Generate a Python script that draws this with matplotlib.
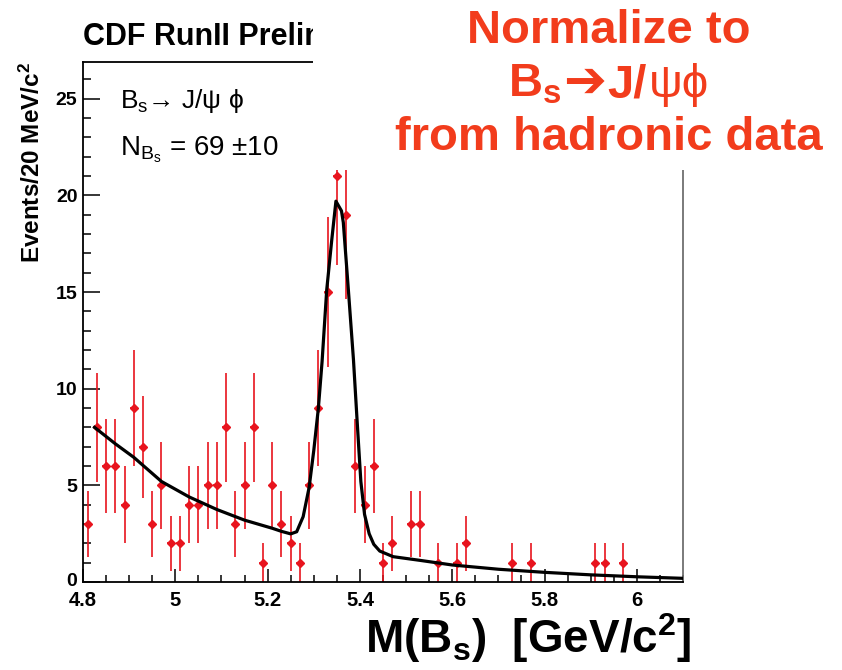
import matplotlib
matplotlib.use("Agg")
import matplotlib.pyplot as plt
import matplotlib.transforms as mtrans
from matplotlib.patches import Rectangle
from matplotlib.ticker import FixedLocator, FixedFormatter, MultipleLocator
import numpy as np

plt.rcParams['font.family'] = ['Liberation Sans', 'DejaVu Sans']
plt.rcParams['mathtext.fontset'] = 'custom'
plt.rcParams['mathtext.rm'] = 'Liberation Sans'
plt.rcParams['mathtext.it'] = 'Liberation Sans:italic'
plt.rcParams['mathtext.bf'] = 'Liberation Sans:bold'

# histogram: bin centres [GeV/c^2] and counts (empty bins are not drawn)
mass = [4.81, 4.83, 4.85, 4.87, 4.89, 4.91, 4.93, 4.95, 4.97, 4.99,
        5.01, 5.03, 5.05, 5.07, 5.09, 5.11, 5.13, 5.15, 5.17, 5.19,
        5.21, 5.23, 5.25, 5.27, 5.29, 5.31, 5.33, 5.35, 5.37, 5.39,
        5.41, 5.43, 5.45, 5.47, 5.51, 5.53, 5.57, 5.61, 5.63, 5.73,
        5.77, 5.91, 5.93, 5.97]
counts = [3, 8, 6, 6, 4, 9, 7, 3, 5, 2,
          2, 4, 4, 5, 5, 8, 3, 5, 8, 1,
          5, 3, 2, 1, 5, 9, 15, 21, 19, 6,
          4, 6, 1, 2, 3, 3, 1, 1, 2, 1,
          1, 1, 1, 1]

# fit curve
fit_x = [4.825, 4.87, 4.91, 4.97, 5.03, 5.09, 5.15, 5.21, 5.23, 5.25,
         5.263, 5.277, 5.29, 5.30, 5.31, 5.318, 5.328, 5.339, 5.348,
         5.36, 5.364, 5.375, 5.386, 5.394, 5.402, 5.41, 5.42, 5.43,
         5.443, 5.472, 5.53, 5.6, 5.7, 5.8, 5.9, 6.0, 6.1]
fit_y = [8.0, 7.15, 6.45, 5.2, 4.4, 3.75, 3.2, 2.78, 2.62, 2.49,
         2.6, 3.38, 4.9, 6.8, 9.0, 11.4, 15.1, 17.7, 19.7,
         19.2, 18.6, 15.1, 11.5, 8.3, 5.2, 3.5, 2.5, 1.95,
         1.6, 1.31, 1.12, 0.88, 0.66, 0.5, 0.37, 0.27, 0.19]

xticks = [4.8, 5.0, 5.2, 5.4, 5.6, 5.8, 6.0]
xticklabels = ['4.8', '5', '5.2', '5.4', '5.6', '5.8', '6']
yticks = [0, 5, 10, 15, 20, 25]
yticklabels = ['0', '5', '10', '15', '20', '25']

W, H = 842, 670


def px(x, y):
    return x / W, 1 - y / H


fig = plt.figure(figsize=(W / 100, H / 100), dpi=100)
ax = fig.add_axes([83 / W, 1 - 582 / H, 600 / W, 520 / H])

err = np.sqrt(counts)
ax.errorbar(mass, counts, yerr=err, xerr=0.008, fmt='D', color='#e8141e',
            ms=4.5, elinewidth=1.2, capsize=0, zorder=2)
ax.plot(fit_x, fit_y, color='black', lw=2.3, zorder=3)

ax.set_xlim(4.8, 6.1)
ax.set_ylim(0, 26.9)

ax.xaxis.set_major_locator(FixedLocator(xticks))
ax.xaxis.set_major_formatter(FixedFormatter(xticklabels))
ax.xaxis.set_minor_locator(MultipleLocator(0.05))
ax.yaxis.set_major_locator(FixedLocator(yticks))
ax.yaxis.set_major_formatter(FixedFormatter(yticklabels))
ax.yaxis.set_minor_locator(MultipleLocator(1))

ax.tick_params(axis='x', which='major', direction='in', length=9.5, width=1.1,
               labelsize=14.5, pad=6.5)
ax.tick_params(axis='x', which='minor', direction='in', length=5, width=1.1)
ax.tick_params(axis='y', which='major', direction='in', length=12, width=1.1,
               labelsize=14, pad=4)
ax.tick_params(axis='y', which='minor', direction='in', length=6, width=1.1)
for lab in ax.get_xticklabels() + ax.get_yticklabels():
    lab.set_fontweight('bold')
# lift the "0" a little so it clears the "4.8"
zero = ax.yaxis.get_major_ticks()[0].label1
zero.set_transform(zero.get_transform() +
                   mtrans.ScaledTranslation(0, 0.03, fig.dpi_scale_trans))

for s in ['left', 'bottom', 'top']:
    ax.spines[s].set_linewidth(1.3)
    ax.spines[s].set_color('black')
ax.spines['right'].set_linewidth(1.3)
ax.spines['right'].set_color('#707070')

# ROOT style texts
fig.text(*px(83, 45), 'CDF RunII Preliminary', fontsize=22, fontweight='bold',
         ha='left', va='baseline')
fig.text(*px(32, 62), r'Events/20 MeV/c$^{\mathbf{2}}$', fontsize=17.5,
         fontweight='bold', rotation=90, ha='center', va='top')
fig.text(*px(120, 108), r'B$_{\mathrm{s}}$→ J/ψ ϕ', fontsize=19,
         ha='left', va='baseline')
fig.text(*px(120, 155), r'N$_{\mathrm{B}_{\mathrm{s}}}$ = 69 ±10', fontsize=20,
         ha='left', va='baseline')

# slide overlay: white box hiding the top right of the frame
fig.patches.append(Rectangle(px(313, 170), (W - 313) / W, 170 / H,
                             transform=fig.transFigure, facecolor='white',
                             edgecolor='none', zorder=5))

red = '#f23c1c'
fig.text(*px(609, 43), 'Normalize to', fontsize=34, fontweight='bold',
         color=red, ha='center', va='baseline', zorder=6)
fig.text(*px(609, 150), 'from hadronic data', fontsize=34, fontweight='bold',
         color=red, ha='center', va='baseline', zorder=6)

# second line built from pieces: bold B_s, heavy arrow, bold J/, thin psi phi
pieces = [(r'B$_{\mathbf{s}}$', dict(fontweight='bold')),
          ('➔', dict(fontweight='bold', family=['DejaVu Sans'], fontsize=37)),
          ('J/', dict(fontweight='bold')),
          ('ψϕ', dict(fontweight='normal'))]
gaps = [1, 1, 3, 0]
renderer = fig.canvas.get_renderer()
texts = []
for s, kw in pieces:
    opts = dict(fontsize=34, color=red, ha='left', va='baseline', zorder=6)
    opts.update(kw)
    texts.append(fig.text(0, 1 - 97 / H, s, **opts))
widths = [t.get_window_extent(renderer).width for t in texts]
total = sum(widths) + sum(gaps[:-1])
x0 = 609 - total / 2
for t, w, g in zip(texts, widths, gaps):
    t.set_x(x0 / W)
    x0 += w + g

fig.text(*px(528, 653), r'M(B$_{\mathbf{s}}$)  [GeV/c$^{\mathbf{2}}$]',
         fontsize=33, fontweight='bold', color='black', ha='center',
         va='baseline', zorder=6)

fig.savefig('out.png', dpi=100)
